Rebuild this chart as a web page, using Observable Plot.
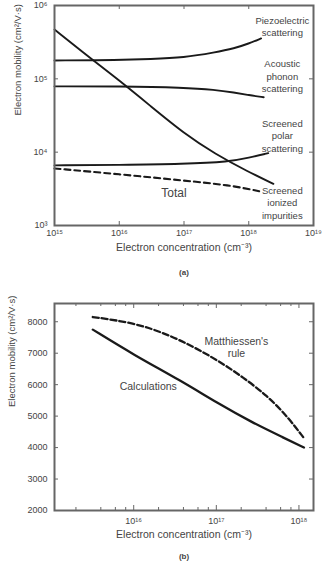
<!DOCTYPE html>
<html><head><meta charset="utf-8">
<script src="https://cdn.jsdelivr.net/npm/d3@7"></script>
<script src="https://cdn.jsdelivr.net/npm/@observablehq/plot@0.6"></script>
<style>
body{margin:0;background:#fff;}
#a,#b{width:325px;height:290px;overflow:hidden}
svg{display:block;overflow:visible}
</style></head><body><div id="a"></div><div id="b"></div>
<script>
// ---------- Panel (a) data ----------
const piezoN  = [1e15, 1e16, 3e16, 1e17, 3e17, 6e17, 1e18, 1.55e18];
const piezoMu = [1.78e5, 1.8e5, 1.86e5, 1.95e5, 2.29e5, 2.6e5, 3.03e5, 3.55e5];
const acouN   = [1e15, 1e16, 1e17, 3e17, 6e17, 1e18, 1.7e18];
const acouMu  = [7.9e4, 7.9e4, 7.6e4, 7.1e4, 6.5e4, 6.0e4, 5.6e4];
const polarN  = [1e15, 1e16, 1e17, 5e17, 1e18, 2e18];
const polarMu = [6.6e3, 6.7e3, 6.9e3, 7.4e3, 8.4e3, 9.7e3];
const ionN    = [1e15, 4e15, 1e16, 3e16, 1e17, 3e17, 1e18, 2.4e18];
const ionMu   = [4.7e5, 1.78e5, 9.5e4, 4.3e4, 1.8e4, 9.5e3, 5.35e3, 3.7e3];
const totN    = [1e15, 1e16, 1e17, 5e17, 1.55e18];
const totMu   = [6.0e3, 5.0e3, 4.1e3, 3.56e3, 2.9e3];
const xTicksA = [1e15, 1e16, 1e17, 1e18, 1e19];
const yTicksA = [1e3, 1e4, 1e5, 1e6];
const labelsA = [
  {text: "Piezoelectric\nscattering", x: 3.3e18, y: 5.3e5},
  {text: "Acoustic\nphonon\nscattering", x: 3.3e18, y: 1.1e5},
  {text: "Screened\npolar\nscattering", x: 3.3e18, y: 1.7e4},
  {text: "Screened\nionized\nimpurities", x: 3.3e18, y: 2.06e3}
];
const totalLabel = [{text: "Total", x: 7e16, y: 2.73e3}];

// ---------- Panel (b) data ----------
const calcN   = [3.2e15, 1e16, 3.7e16, 1.05e17, 2.7e17, 6.7e17, 1.15e18];
const calcMu  = [7750, 6950, 6130, 5400, 4800, 4300, 4000];
const mattN   = [3.2e15, 1e16, 2.6e16, 6.6e16, 1.66e17, 4.3e17, 7.6e17, 1.15e18];
const mattMu  = [8150, 7970, 7600, 7080, 6440, 5620, 4920, 4300];
const xTicksB = [1e16, 1e17, 1e18];
const xMinorB = [2e15, 4e15, 6e15, 8e15, 2e16, 4e16, 6e16, 8e16, 2e17, 4e17, 6e17, 8e17];
const yTicksB = [2000, 3000, 4000, 5000, 6000, 7000, 8000];
const labelsB = [
  {text: "Matthiessen's\nrule", x: 1.75e17, y: 7200},
  {text: "Calculations", x: 1.5e16, y: 5950}
];

const xLabel = "Electron concentration (cm⁻³)";
const yLabel = "Electron mobility (cm²/V·s)";

const sup = {"0":"⁰","1":"¹","2":"²","3":"³","4":"⁴","5":"⁵","6":"⁶","7":"⁷","8":"⁸","9":"⁹","-":"⁻"};
const pow10 = d => "10" + String(Math.round(Math.log10(d))).split("").map(c => sup[c]).join("");
const pts = (xs, ys) => xs.map((x, i) => ({x, y: ys[i]}));

const font = "'Liberation Sans', Arial, sans-serif";
const ink = "#1a1a1a";
const frameC = "#666";
const textC = "#444";

// ---------- Plot (a) ----------
const hA = 290, mtA = 5, mbA = 65, mlA = 54, mrA = 12;
const phA = hA - mtA - mbA, pwA = 325 - mlA - mrA;
const plotA = Plot.plot({
  width: 325, height: hA, marginTop: mtA, marginBottom: mbA, marginLeft: mlA, marginRight: mrA,
  style: {fontFamily: font, fontSize: "9px", color: textC, background: "#fff", overflow: "visible"},
  x: {type: "log", domain: [1e15, 1e19]},
  y: {type: "log", domain: [1e3, 1e6]},
  marks: [
    Plot.axisX(xTicksA, {anchor: "bottom", tickSize: 0, tickPadding: 4, tickFormat: pow10, label: null, fill: textC}),
    Plot.axisY(yTicksA, {anchor: "left", tickSize: 0, tickPadding: 7, tickFormat: pow10, label: null, fill: textC}),
    Plot.ruleX(xTicksA, {x: d => d, insetTop: phA - 4, stroke: frameC}),
    Plot.ruleX(xTicksA, {x: d => d, insetBottom: phA - 4, stroke: frameC}),
    Plot.ruleY(yTicksA, {y: d => d, insetRight: pwA - 4, stroke: frameC}),
    Plot.ruleY(yTicksA, {y: d => d, insetLeft: pwA - 4, stroke: frameC}),
    Plot.line(pts(piezoN, piezoMu), {x: "x", y: "y", stroke: ink, strokeWidth: 1.9, curve: "basis"}),
    Plot.line(pts(acouN, acouMu), {x: "x", y: "y", stroke: ink, strokeWidth: 1.9, curve: "basis"}),
    Plot.line(pts(polarN, polarMu), {x: "x", y: "y", stroke: ink, strokeWidth: 1.9, curve: "basis"}),
    Plot.line(pts(ionN, ionMu), {x: "x", y: "y", stroke: ink, strokeWidth: 1.9, curve: "basis"}),
    Plot.line(pts(totN, totMu), {x: "x", y: "y", stroke: ink, strokeWidth: 2.1, strokeDasharray: "6,4", curve: "basis"}),
    Plot.text(labelsA, {x: "x", y: "y", text: "text", fontSize: 9.5, lineHeight: 1.3, fill: textC, textAnchor: "middle"}),
    Plot.text(totalLabel, {x: "x", y: "y", text: "text", fontSize: 12, fill: textC}),
    Plot.frame({stroke: frameC, strokeWidth: 2}),
    Plot.text([xLabel], {frameAnchor: "bottom", dy: 25, text: d => d, fontSize: 10.5, fill: textC}),
    Plot.text(["(a)"], {frameAnchor: "bottom", dy: 49, text: d => d, fontSize: 8, fontWeight: "bold", fill: textC}),
    Plot.text([yLabel], {frameAnchor: "left", dx: -37, rotate: -90, text: d => d, fontSize: 9.5, fill: textC})
  ]
});
document.getElementById("a").append(plotA);

// ---------- Plot (b) ----------
const hB = 290, mtB = 13, mbB = 70, mlB = 54, mrB = 12;
const phB = hB - mtB - mbB, pwB = 325 - mlB - mrB;
const plotB = Plot.plot({
  width: 325, height: hB, marginTop: mtB, marginBottom: mbB, marginLeft: mlB, marginRight: mrB,
  style: {fontFamily: font, fontSize: "9px", color: textC, background: "#fff", overflow: "visible"},
  x: {type: "log", domain: [1.1e15, 1.5e18]},
  y: {type: "linear", domain: [2000, 8580]},
  marks: [
    Plot.axisX(xTicksB, {anchor: "bottom", tickSize: 0, tickPadding: 7, tickFormat: pow10, label: null, fill: textC}),
    Plot.axisY(yTicksB, {anchor: "left", tickSize: 0, tickPadding: 7, tickFormat: d => String(d), label: null, fill: textC}),
    Plot.ruleX(xTicksB, {x: d => d, insetTop: phB - 5, stroke: frameC}),
    Plot.ruleX(xTicksB, {x: d => d, insetBottom: phB - 5, stroke: frameC}),
    Plot.ruleX(xMinorB, {x: d => d, insetTop: phB - 3, stroke: frameC}),
    Plot.ruleX(xMinorB, {x: d => d, insetBottom: phB - 3, stroke: frameC}),
    Plot.ruleY(yTicksB, {y: d => d, insetRight: pwB - 4, stroke: frameC}),
    Plot.ruleY(yTicksB, {y: d => d, insetLeft: pwB - 4, stroke: frameC}),
    Plot.line(pts(calcN, calcMu), {x: "x", y: "y", stroke: ink, strokeWidth: 2.3, curve: "basis"}),
    Plot.line(pts(mattN, mattMu), {x: "x", y: "y", stroke: ink, strokeWidth: 2.3, strokeDasharray: "6,3", curve: "basis"}),
    Plot.text(labelsB, {x: "x", y: "y", text: "text", fontSize: 10.5, lineHeight: 1.15, fill: textC}),
    Plot.frame({stroke: frameC, strokeWidth: 2}),
    Plot.text([xLabel], {frameAnchor: "bottom", dy: 27, text: d => d, fontSize: 10.5, fill: textC}),
    Plot.text(["(b)"], {frameAnchor: "bottom", dy: 48, text: d => d, fontSize: 8, fontWeight: "bold", fill: textC}),
    Plot.text([yLabel], {frameAnchor: "left", dx: -43, rotate: -90, text: d => d, fontSize: 9.5, fill: textC})
  ]
});
document.getElementById("b").append(plotB);
</script>
</body></html>
